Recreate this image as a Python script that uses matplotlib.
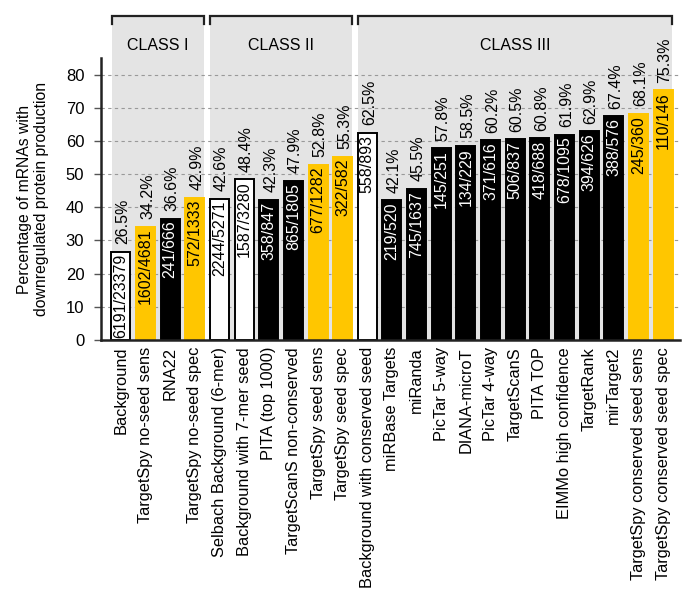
import matplotlib
matplotlib.use('Agg')
import matplotlib.pyplot as plt

plt.rcParams['font.family'] = ['Liberation Sans', 'DejaVu Sans']

# Data
methods = ['Background', 'TargetSpy no-seed sens', 'RNA22', 'TargetSpy no-seed spec',
           'Selbach Background (6-mer)', 'Background with 7-mer seed', 'PITA (top 1000)',
           'TargetScanS non-conserved', 'TargetSpy seed sens', 'TargetSpy seed spec',
           'Background with conserved seed', 'miRBase Targets', 'miRanda', 'PicTar 5-way',
           'DIANA-microT', 'PicTar 4-way', 'TargetScanS', 'PITA TOP', 'EIMMo high confidence',
           'TargetRank', 'mirTarget2', 'TargetSpy conserved seed sens',
           'TargetSpy conserved seed spec']
percent = [26.5, 34.2, 36.6, 42.9, 42.6, 48.4, 42.3, 47.9, 52.8, 55.3, 62.5, 42.1, 45.5,
           57.8, 58.5, 60.2, 60.5, 60.8, 61.9, 62.9, 67.4, 68.1, 75.3]
counts = ['6191/23379', '1602/4681', '241/666', '572/1333', '2244/5271', '1587/3280',
          '358/847', '865/1805', '677/1282', '322/582', '558/893', '219/520', '745/1637',
          '145/251', '134/229', '371/616', '506/837', '418/688', '678/1095', '394/626',
          '388/576', '245/360', '110/146']
kinds = ['bg', 'spy', 'tool', 'spy', 'bg', 'bg', 'tool', 'tool', 'spy', 'spy', 'bg',
         'tool', 'tool', 'tool', 'tool', 'tool', 'tool', 'tool', 'tool', 'tool', 'tool',
         'spy', 'spy']
classes = ['CLASS I', 'CLASS II', 'CLASS III']
class_spans = [(0, 3), (4, 9), (10, 22)]

yellow = '#FFC600'
face = {'bg': 'white', 'spy': yellow, 'tool': 'black'}
edge = {'bg': 'black', 'spy': yellow, 'tool': 'black'}
txtcol = {'bg': 'black', 'spy': 'black', 'tool': 'white'}

fig = plt.figure(figsize=(6.85, 6.07), dpi=100)
ax = fig.add_axes([0.1474, 0.4399, 0.845, 0.4645])

x = list(range(len(methods)))
ax.set_xlim(-0.81, 22.68)
ax.set_ylim(0, 85)

# gray class panels with brackets on top
for (a, b), name in zip(class_spans, classes):
    left = a - 0.38
    right = b + 0.38
    ax.add_patch(plt.Rectangle((left, 0), right - left, 97.6, facecolor='#E4E4E4',
                               edgecolor='none', zorder=0, clip_on=False))
    ax.plot([left, left, right, right], [95.3, 97.6, 97.6, 95.3], color='#222222',
            lw=1.6, clip_on=False, zorder=3, solid_joinstyle='miter')
    ax.text((left + right) / 2, 88.8, name, ha='center', va='center', fontsize=11.5,
            clip_on=False)

for yv in range(10, 90, 10):
    ax.axhline(yv, color='#999999', lw=0.8, ls=(0, (3, 3)), zorder=1)

bars = ax.bar(x, percent, width=0.77,
              color=[face[k] for k in kinds],
              edgecolor=[edge[k] for k in kinds], linewidth=1.4, zorder=2)

for i, (p, c, k) in enumerate(zip(percent, counts, kinds)):
    ax.text(i, p - 0.6, c, rotation=90, ha='center', va='top', fontsize=11.5,
            color=txtcol[k], zorder=4)
    ax.text(i + 0.08, p + 2.3, '%.1f%%' % p, rotation=90, ha='center', va='bottom',
            fontsize=11.5, zorder=4)

ax.set_xticks(x)
ax.set_xticklabels(methods, rotation=90, fontsize=11.8)
ax.tick_params(axis='x', length=0, pad=5)
ax.set_yticks(range(0, 90, 10))
ax.tick_params(axis='y', labelsize=12, length=5, width=1, color='#555555', pad=7)
ax.set_ylabel('Percentage of mRNAs with\ndownregulated protein production', fontsize=11.3,
              labelpad=12)

for s in ['top', 'right']:
    ax.spines[s].set_visible(False)
ax.spines['left'].set_linewidth(1.8)
ax.spines['bottom'].set_linewidth(1.8)
ax.spines['left'].set_color('#222222')
ax.spines['bottom'].set_color('#222222')
ax.set_facecolor('white')

fig.savefig('out.png', dpi=100)
